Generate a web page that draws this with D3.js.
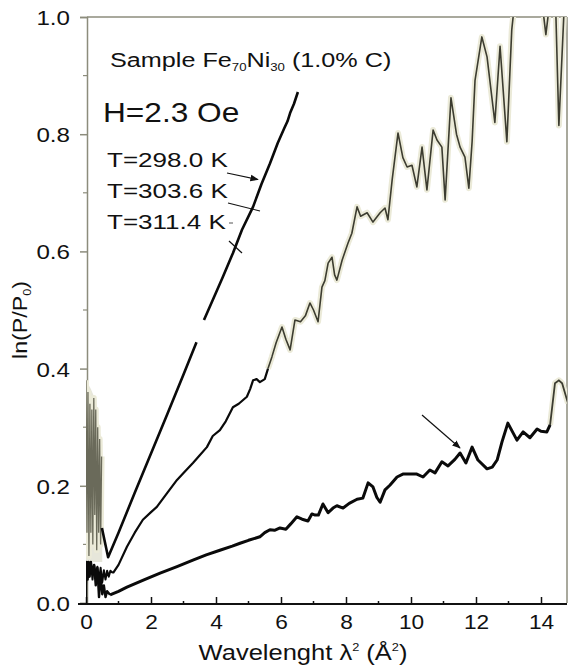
<!DOCTYPE html>
<html><head><meta charset="utf-8">
<script src="https://cdn.jsdelivr.net/npm/d3@7"></script>
<style>body{margin:0;background:#fff}svg{display:block}text{font-family:"Liberation Sans",Arial,sans-serif;fill:#111}</style>
</head><body>
<svg id="c" width="569" height="669"></svg>
<script>
// ---- data ----
const xTicks = [0,2,4,6,8,10,12,14];
const yTicks = [0.0,0.2,0.4,0.6,0.8,1.0];
const tempLabels = ["T=298.0 K","T=303.6 K","T=311.4 K"];
const sampleLabel = ["Sample Fe","70","Ni","30"," (1.0% C)"];
const fieldLabel = "H=2.3 Oe";

// T=298.0 K
const c1Band = [[0,0.07,0.38],[0.15,0.07,0.365],[0.3,0.07,0.345],[0.4,0.07,0.30],[0.5,0.07,0.27]];
const c1Noise = [[0,0.38],[0.03,0.12],[0.06,0.36],[0.09,0.08],[0.12,0.34],[0.15,0.12],[0.18,0.33],[0.21,0.10],[0.24,0.35],[0.27,0.15],[0.3,0.33],[0.33,0.09],[0.36,0.30],[0.39,0.12],[0.42,0.28],[0.45,0.10],[0.48,0.25]];
const c1Main = [[0.49,0.128],[0.68,0.078],[1.0,0.12],[1.5,0.188],[2.0,0.255],[2.5,0.322],[3.0,0.39],[3.4,0.445],[3.5,null],[3.63,0.483],[3.9,0.517],[4.2,0.555],[4.52,0.597],[4.8,0.637],[5.14,0.676],[5.4,0.715],[5.66,0.75],[5.9,0.785],[6.1,0.81],[6.2,0.822],[6.28,0.836],[6.4,0.852],[6.52,0.872]];
// T=303.6 K
const c2Noise = [[0,0.05],[0.05,0.068],[0.1,0.045],[0.15,0.07],[0.2,0.04],[0.25,0.065],[0.3,0.05],[0.35,0.062],[0.4,0.04],[0.45,0.06],[0.5,0.035],[0.55,0.056],[0.6,0.04],[0.65,0.055],[0.7,0.045],[0.75,0.055],[0.83,0.051]];
const c2Main = [[0.83,0.051],[1.0,0.065],[1.26,0.096],[1.5,0.12],[1.75,0.142],[2.0,0.155],[2.18,0.164],[2.5,0.188],[2.8,0.21],[3.0,0.222],[3.29,0.239],[3.5,0.252],[3.72,0.266],[3.9,0.285],[4.12,0.295],[4.3,0.31],[4.52,0.334],[4.7,0.34],[4.95,0.352],[5.05,0.365],[5.14,0.38],[5.25,0.382],[5.35,0.377],[5.5,0.382],[5.6,0.40]];
const c2Tail = [[5.6,0.40],[5.72,0.42],[5.85,0.444],[6.03,0.471],[6.15,0.45],[6.28,0.432],[6.43,0.483],[6.6,0.48],[6.75,0.49],[6.89,0.512],[7.0,0.5],[7.14,0.48],[7.26,0.539],[7.35,0.55],[7.45,0.58],[7.57,0.59],[7.65,0.56],[7.72,0.551],[7.88,0.585],[8.06,0.614],[8.18,0.631],[8.34,0.676],[8.45,0.66],[8.65,0.666],[8.83,0.65],[9.05,0.666],[9.2,0.674],[9.29,0.654],[9.42,0.722],[9.6,0.802],[9.75,0.76],[9.88,0.744],[10.03,0.747],[10.18,0.71],[10.34,0.778],[10.49,0.705],[10.68,0.807],[10.8,0.79],[10.95,0.778],[11.05,0.688],[11.23,0.862],[11.4,0.80],[11.51,0.778],[11.66,0.761],[11.78,0.708],[11.88,0.787],[11.97,0.892],[12.18,0.966],[12.34,0.932],[12.58,0.82],[12.74,0.95],[12.95,0.787],[13.1,0.978],[13.2,1.03],[13.6,1.05],[14.0,1.04],[14.15,0.97],[14.3,1.04],[14.45,1.02],[14.55,0.815],[14.7,1.0],[14.85,1.02]];
// T=311.4 K
const c3Noise = [[0,0.0],[0,0.03],[0.02,0.07],[0.05,0.04],[0.08,0.07],[0.11,0.045],[0.15,0.07],[0.2,0.05],[0.25,0.065],[0.3,0.03],[0.35,0.06],[0.4,0.01],[0.45,0.05],[0.5,0.015],[0.55,0.03],[0.6,0.01],[0.65,0.02],[0.74,0.014]];
const c3Main = [[0.74,0.014],[1.0,0.02],[1.26,0.027],[1.8,0.04],[2.28,0.051],[2.8,0.062],[3.29,0.073],[3.7,0.082],[4.12,0.09],[4.5,0.097],[4.74,0.102],[5.0,0.107],[5.35,0.113],[5.5,0.12],[5.66,0.125],[5.8,0.124],[5.97,0.128],[6.15,0.126],[6.3,0.135],[6.49,0.147],[6.65,0.143],[6.83,0.14],[6.95,0.152],[7.05,0.15],[7.15,0.15],[7.29,0.169],[7.45,0.154],[7.6,0.162],[7.72,0.166],[7.91,0.162],[8.1,0.17],[8.34,0.177],[8.52,0.179],[8.68,0.205],[8.83,0.198],[8.95,0.18],[9.05,0.172],[9.2,0.193],[9.35,0.201],[9.57,0.215],[9.75,0.22],[10.0,0.22],[10.18,0.22],[10.37,0.215],[10.58,0.227],[10.74,0.222],[10.95,0.241],[11.14,0.234],[11.35,0.245],[11.51,0.256],[11.69,0.239],[11.88,0.266],[12.06,0.244],[12.34,0.229],[12.5,0.232],[12.65,0.244],[12.8,0.275],[12.98,0.307],[13.26,0.278],[13.45,0.292],[13.66,0.282],[13.88,0.297],[14.0,0.293],[14.18,0.292],[14.28,0.304]];
const c3Tail = [[14.28,0.304],[14.43,0.375],[14.55,0.38],[14.65,0.375],[14.83,0.341]];

// ---- chart ----
const svg = d3.select("#c");
const x = d3.scaleLinear().domain([0,14.8]).range([86,567]);
const y = d3.scaleLinear().domain([0,1]).range([603,17]);

svg.append("defs").append("clipPath").attr("id","clip")
  .append("rect").attr("x",x(0)).attr("y",y(1)).attr("width",x(14.8)-x(0)).attr("height",y(0)-y(1)+1);
svg.select("defs").append("marker").attr("id","ah").attr("viewBox","0 0 10 10").attr("refX",9).attr("refY",5)
  .attr("markerWidth",7).attr("markerHeight",7).attr("orient","auto")
  .append("path").attr("d","M0,1 L10,5 L0,9 Z").attr("fill","#111");

// frame (top/right gray)
svg.append("line").attr("x1",87).attr("x2",x(14.8)).attr("y1",y(1)).attr("y2",y(1)).attr("stroke","#8c8c7c").attr("stroke-width",1.5);
svg.append("line").attr("x1",x(14.8)).attr("x2",x(14.8)).attr("y1",y(1)).attr("y2",y(0)).attr("stroke","#8c8c7c").attr("stroke-width",1.5);

// y axis
const yAxis = d3.axisLeft(y).tickValues(yTicks).tickSize(7).tickFormat(d3.format(".1f"));
const gy = svg.append("g").attr("transform","translate(87,0)").call(yAxis);
gy.select(".domain").attr("stroke","#8c8c7c").attr("stroke-width",1.5);
gy.selectAll(".tick line").attr("stroke","#8c8c7c").attr("stroke-width",1.5);
gy.selectAll(".tick text").attr("x",0).attr("dy","0.36em").style("font-size","21px").attr("fill","#111")
  .attr("transform","translate(-17,0) scale(1.15,1)");
const yMinor = d3.range(0.1,1.0,0.2);
gy.selectAll(".minor").data(yMinor).enter().append("line").attr("x1",-4).attr("x2",0)
  .attr("y1",d=>y(d)).attr("y2",d=>y(d)).attr("stroke","#8c8c7c").attr("stroke-width",1.2);

// x axis
const xAxis = d3.axisBottom(x).tickValues(xTicks).tickSizeInner(-7).tickSizeOuter(0).tickFormat(d3.format("d"));
const gx = svg.append("g").attr("transform","translate(0,604)").call(xAxis);
gx.select(".domain").attr("stroke","#111").attr("stroke-width",2).attr("d",`M78,0H${x(14.8)}`);
gx.selectAll(".tick line").attr("stroke","#111").attr("stroke-width",1.5);
gx.selectAll(".tick text").attr("y",0).attr("dy",0).style("font-size","21px").attr("fill","#111")
  .attr("transform","translate(0,25) scale(1.08,1)");
const xMinor = d3.range(1,15,1).filter(d=>d%2===1);
gx.selectAll(".minor").data(xMinor).enter().append("line").attr("x1",d=>x(d)).attr("x2",d=>x(d))
  .attr("y1",-3).attr("y2",0).attr("stroke","#111").attr("stroke-width",1.5);

// curves
const plot = svg.append("g").attr("clip-path","url(#clip)");
const line = d3.line().defined(d=>d[1]!==null).x(d=>x(d[0])).y(d=>y(d[1]));
const area = d3.area().x(d=>x(d[0])).y0(d=>y(d[1])).y1(d=>y(d[2]));

plot.append("path").attr("d",area(c1Band)).attr("fill","#e6e6da");
function halo(data){
  plot.append("path").attr("d",line(data)).attr("fill","none").attr("stroke","#ebead8").attr("stroke-width",6).attr("stroke-linejoin","round");
}
halo(c1Noise); halo(c2Tail); halo(c3Tail);
plot.append("path").attr("d",line(c1Noise)).attr("fill","none").attr("stroke","#6a6a5a").attr("stroke-width",1.3);
plot.append("path").attr("d",line(c2Tail)).attr("fill","none").attr("stroke","#3c3c30").attr("stroke-width",1.6).attr("stroke-linejoin","round");
plot.append("path").attr("d",line(c3Tail)).attr("fill","none").attr("stroke","#3c3c30").attr("stroke-width",1.8);

plot.append("path").attr("d",line(c1Main)).attr("fill","none").attr("stroke","#0a0a0a").attr("stroke-width",2.6).attr("stroke-linejoin","round");
plot.append("path").attr("d",line(c2Noise)).attr("fill","none").attr("stroke","#0a0a0a").attr("stroke-width",2).attr("stroke-linejoin","round");
plot.append("path").attr("d",line(c2Main)).attr("fill","none").attr("stroke","#0a0a0a").attr("stroke-width",2.2).attr("stroke-linejoin","round");
plot.append("path").attr("d",line(c3Noise)).attr("fill","none").attr("stroke","#0a0a0a").attr("stroke-width",2.4).attr("stroke-linejoin","round");
plot.append("path").attr("d",line(c3Main)).attr("fill","none").attr("stroke","#0a0a0a").attr("stroke-width",3).attr("stroke-linejoin","round");

// texts
function txt(px,py,size,sx,anchor){
  return svg.append("text").attr("transform",`translate(${px},${py}) scale(${sx},1)`)
    .attr("text-anchor",anchor||"start").style("font-size",size+"px");
}
const st = txt(110,67,21,1.2);
sampleLabel.forEach((s,i)=>{
  const t = st.append("tspan").text(s);
  if(i===1||i===3){ t.style("font-size","11px").attr("dy",4); }
  else if(i===2||i===4){ t.attr("dy",-4); }
});
txt(103,122,28,1.13).text(fieldLabel);
const tY = [167,198,229];
tempLabels.forEach((s,i)=>txt(107,tY[i],21,1.24).text(s));

// annotation lines
svg.append("line").attr("x1",227).attr("y1",173).attr("x2",258).attr("y2",179.5).attr("stroke","#111").attr("stroke-width",1.2).attr("marker-end","url(#ah)");
svg.append("line").attr("x1",228).attr("y1",203).attr("x2",260).attr("y2",211).attr("stroke","#111").attr("stroke-width",1.2);
svg.append("line").attr("x1",229).attr("y1",223).attr("x2",233).attr("y2",223).attr("stroke","#555").attr("stroke-width",1);
svg.append("line").attr("x1",229).attr("y1",241).attr("x2",242).attr("y2",253).attr("stroke","#111").attr("stroke-width",1.2);
svg.append("line").attr("x1",422).attr("y1",415).attr("x2",460).attr("y2",448).attr("stroke","#111").attr("stroke-width",1.2).attr("marker-end","url(#ah)");

// axis titles
const xt = txt(303,660,22,1.16,"middle");
xt.append("tspan").text("Wavelenght λ");
xt.append("tspan").text("2").style("font-size","11px").attr("dy",-9);
xt.append("tspan").text(" (Å").attr("dy",9);
xt.append("tspan").text("2").style("font-size","11px").attr("dy",-9);
xt.append("tspan").text(")").attr("dy",9);

const yt = svg.append("text").attr("transform","translate(27,320) rotate(-90) scale(1.16,1)").attr("text-anchor","middle").style("font-size","20px");
yt.append("tspan").text("ln(P/P");
yt.append("tspan").text("0").style("font-size","11px").attr("dy",4);
yt.append("tspan").text(")").attr("dy",-4);
</script>
</body></html>
